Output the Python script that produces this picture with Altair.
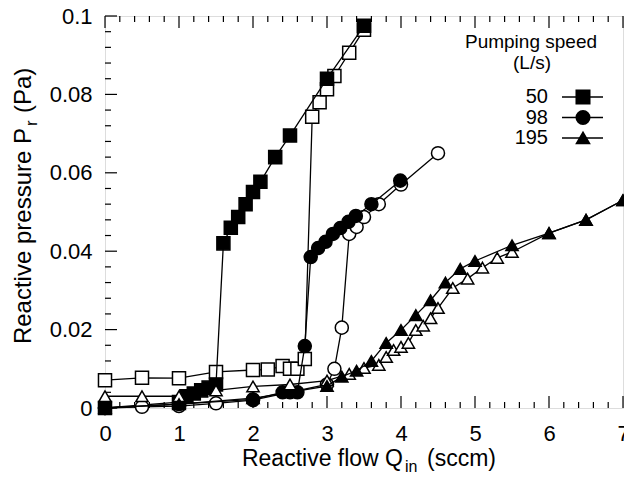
import altair as alt
import pandas as pd

# ---------------- data ----------------
# 50 L/s : increasing (filled squares) / decreasing (open squares)
q50_up = [0, 1.0, 1.1, 1.2, 1.3, 1.4, 1.5, 1.6, 1.7, 1.8, 1.9, 2.0, 2.1, 2.3, 2.5, 3.0, 3.5]
p50_up = [0, 0.0015, 0.003, 0.0037, 0.0045, 0.0052, 0.006, 0.042, 0.046, 0.0487, 0.052,
          0.0551, 0.0577, 0.064, 0.0695, 0.084, 0.0975]
q50_down = [0, 0.5, 1.0, 1.5, 2.0, 2.2, 2.4, 2.5, 2.6, 2.7, 2.8, 2.9, 3.0, 3.1, 3.3, 3.5]
p50_down = [0.0071, 0.0077, 0.0076, 0.0092, 0.0097, 0.0098, 0.0107, 0.0100, 0.0100, 0.0125,
            0.0743, 0.078, 0.0813, 0.0847, 0.0906, 0.0965]

# 98 L/s : filled circles / open circles
q98_up = [0, 1.0, 2.0, 2.4, 2.5, 2.6, 2.7, 2.78, 2.88, 2.98, 3.08, 3.18, 3.29, 3.39, 3.6, 3.99]
p98_up = [0, 0.001, 0.0022, 0.004, 0.004, 0.004, 0.0158, 0.0385, 0.0408, 0.0424, 0.0444,
          0.0459, 0.0475, 0.049, 0.052, 0.058]
q98_down = [0, 0.5, 1.0, 1.5, 2.0, 3.0, 3.1, 3.2, 3.3, 3.4, 3.5, 3.7, 4.0, 4.5]
p98_down = [0, 0.0003, 0.0005, 0.0012, 0.002, 0.006, 0.010, 0.0205, 0.0444, 0.0462, 0.0487,
            0.052, 0.057, 0.065]

# 195 L/s : filled triangles / open triangles
q195_up = [0, 1.0, 2.0, 3.0, 3.2, 3.4, 3.6, 3.8, 4.0, 4.2, 4.4, 4.6, 4.8, 5.0, 5.5, 6.0, 6.5, 7.0]
p195_up = [0, 0.001, 0.0025, 0.0056, 0.008, 0.0095, 0.012, 0.0166, 0.0199, 0.0237, 0.0275,
           0.032, 0.0355, 0.0375, 0.0415, 0.0446, 0.048, 0.053]
q195_down = [0, 0.5, 1.0, 1.5, 2.0, 2.5, 3.0, 3.3, 3.5, 3.7, 3.8, 3.9, 4.0, 4.1, 4.2, 4.3, 4.4,
             4.5, 4.7, 4.9, 5.1, 5.3, 5.5, 6.0, 6.5, 7.0]
p195_down = [0.003, 0.003, 0.003, 0.0045, 0.0055, 0.006, 0.007, 0.0087, 0.0102, 0.011, 0.013,
             0.0148, 0.0156, 0.0166, 0.0199, 0.021, 0.0229, 0.0255, 0.0306, 0.033, 0.0358,
             0.0383, 0.0398, 0.0446, 0.048, 0.053]

speeds = ["50", "98", "195"]
shapes = ["square", "circle", "triangle-up"]

x_major = [0, 1, 2, 3, 4, 5, 6, 7]
x_minor = [round(i * 0.2, 1) for i in range(36) if i % 5 != 0]
y_major = [0, 0.02, 0.04, 0.06, 0.08, 0.1]
y_minor = [round(i * 0.004, 3) for i in range(26) if i % 5 != 0]

# ---------------- chart ----------------
W, H = 518, 392
FONT = "Liberation Sans"
xs = alt.Scale(domain=[0, 7], nice=False, zero=False)
ys = alt.Scale(domain=[0, 0.1], nice=False, zero=False)
one = pd.DataFrame({"a": [0]})

xaxis = alt.Axis(values=x_major, ticks=False, domain=False, grid=False,
                 labelFontSize=22, labelFont=FONT, labelColor="black",
                 labelPadding=15, title=None, labelFlush=False)
yaxis = alt.Axis(values=y_major, format="~g", ticks=False, domain=False,
                 grid=False, labelFontSize=22, labelFont=FONT,
                 labelColor="black", labelPadding=13, title=None, labelFlush=False)

def X():
    return alt.X("Q:Q", scale=xs, axis=xaxis)

def Y():
    return alt.Y("P:Q", scale=ys, axis=yaxis)

layers = []

# inward ticks
def xticks(vals, length):
    d = pd.DataFrame({"Q": vals})
    b = alt.Chart(d).mark_rule(color="black", strokeWidth=1.2)
    return [b.encode(x=X(), y=alt.value(H), y2=alt.value(H - length)),
            b.encode(x=X(), y=alt.value(0), y2=alt.value(length))]

def yticks(vals, length):
    d = pd.DataFrame({"P": vals})
    b = alt.Chart(d).mark_rule(color="black", strokeWidth=1.2)
    return [b.encode(y=Y(), x=alt.value(0), x2=alt.value(length))]

layers += xticks(x_major, 12) + xticks(x_minor, 6) + yticks(y_major, 12) + yticks(y_minor, 6)

sizes = {"square": 170, "circle": 170, "triangle-up": 150}

def series(q, p, shape, filled):
    df = pd.DataFrame({"Q": q, "P": p, "i": list(range(len(q)))})
    base = alt.Chart(df).encode(x=X(), y=Y(), order="i:Q")
    line = base.mark_line(color="black", strokeWidth=1.3)
    pts = base.mark_point(shape=shape, filled=True, fill="black" if filled else "white",
                          stroke="black", strokeWidth=1.5, size=sizes[shape],
                          opacity=1, fillOpacity=1, strokeOpacity=1)
    return [line, pts]

layers += series(q50_down, p50_down, "square", False)
layers += series(q50_up, p50_up, "square", True)
layers += series(q98_down, p98_down, "circle", False)
layers += series(q98_up, p98_up, "circle", True)
layers += series(q195_down, p195_down, "triangle-up", False)
layers += series(q195_up, p195_up, "triangle-up", True)

# legend (drawn by hand)
def txt(s, x, y, size, align="center", baseline="middle", angle=0):
    kw = dict(text=s, font=FONT, fontSize=size, color="black", align=align, baseline=baseline)
    if angle:
        kw["angle"] = angle
    return alt.Chart(one).mark_text(**kw).encode(x=alt.value(x), y=alt.value(y))

layers.append(txt("Pumping speed", 426, 26, 19))
layers.append(txt("(L/s)", 427, 47, 19))
for k, (s, shp) in enumerate(zip(speeds, shapes)):
    yy = 81 + k * 20.5
    layers.append(txt(s, 443, yy, 20, align="right"))
    layers.append(alt.Chart(one).mark_rule(color="black", strokeWidth=1.3).encode(
        x=alt.value(457), x2=alt.value(498), y=alt.value(yy)))
    layers.append(alt.Chart(one).mark_point(shape=shp, filled=True, fill="black", stroke="black",
                                            size=sizes[shp], opacity=1).encode(
        x=alt.value(478), y=alt.value(yy)))

# axis titles with subscripts
layers.append(txt("Reactive flow Q", 298, 450, 23, align="right", baseline="alphabetic"))
layers.append(txt("in", 300, 456, 16, align="left", baseline="alphabetic"))
layers.append(txt("(sccm)", 322, 450, 23, align="left", baseline="alphabetic"))

layers.append(txt("Reactive pressure P", -74, 112, 24, align="right", baseline="alphabetic", angle=270))
layers.append(txt("r", -68, 110, 17, align="left", baseline="alphabetic", angle=270))
layers.append(txt("(Pa)", -74, 97, 24, align="left", baseline="alphabetic", angle=270))

chart = alt.layer(*layers).properties(
    width=W, height=H,
    padding={"left": 97, "top": 8, "right": 1, "bottom": 69},
    autosize=alt.AutoSizeParams(type="none"),
).configure_view(stroke="black", strokeWidth=1.5).configure(background="white")

chart.save("out.html", embed_options={"renderer": "svg", "actions": False})
